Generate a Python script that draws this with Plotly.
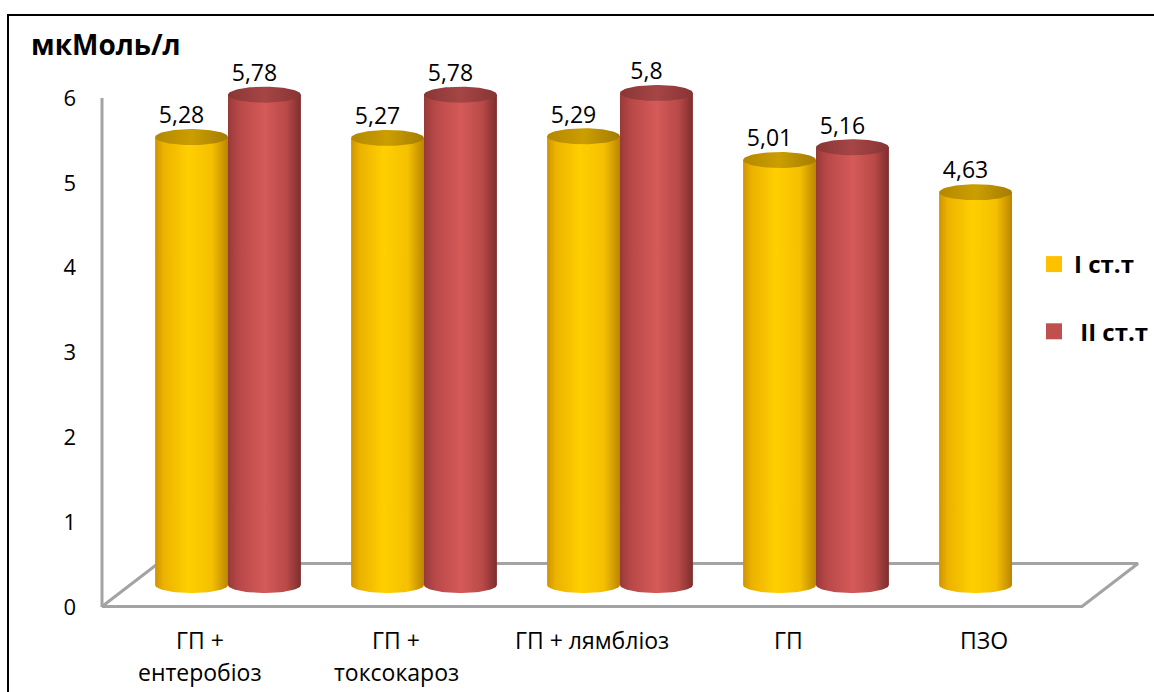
import numpy as np
import plotly.graph_objects as go

# ---- data -------------------------------------------------------------
categories = ["ГП +\nентеробіоз", "ГП +\nтоксокароз", "ГП + лямбліоз", "ГП", "ПЗО"]
series_names = ["I ст.т", "\u00a0II ст.т"]
values_I = [5.28, 5.27, 5.29, 5.01, 4.63]
values_II = [5.78, 5.78, 5.80, 5.16, None]
y_ticks = [0, 1, 2, 3, 4, 5, 6]
unit_title = "мкМоль/л"

# ---- geometry / style ---------------------------------------------------
W, H = 1154, 692
PX_PER_UNIT_Y = 84.83          # pixels per value unit
PX_PER_CAT = 196.0             # pixels per category
MID_X0_PX = 228.0              # category 0 centre on the mid-depth plane
MID_Y0_PX = 585.0              # value 0 on the mid-depth plane
FRONT_Y0_PX = 607.0            # value 0 on the front wall (tick axis)
DEPTH_X = 28.0 / PX_PER_CAT    # half depth, category units
DEPTH_Y = 21.5 / PX_PER_UNIT_Y # half depth, value units
R = 0.186                      # cylinder radius (category units)
B = 8.0 / PX_PER_UNIT_Y        # ellipse half height (value units)
FONT = "Open Sans"
TEXT_SIZE = 23

x_range = [-MID_X0_PX / PX_PER_CAT, (W - MID_X0_PX) / PX_PER_CAT]
y_range = [-(H - MID_Y0_PX) / PX_PER_UNIT_Y, MID_Y0_PX / PX_PER_UNIT_Y]
tick_range = [-(H - FRONT_Y0_PX) / PX_PER_UNIT_Y, FRONT_Y0_PX / PX_PER_UNIT_Y]

body_scales = [
    [[0, "#cf9500"], [0.12, "#ecb200"], [0.45, "#ffcf00"], [0.78, "#f5c000"], [1, "#bb8600"]],
    [[0, "#983a3a"], [0.15, "#b84848"], [0.5, "#d55a58"], [0.8, "#b94a48"], [1, "#7c2e2e"]],
]
cap_scales = [
    [[0, "#b48800"], [0.5, "#cb9e00"], [1, "#a57c00"]],
    [[0, "#8a3636"], [0.5, "#a64545"], [1, "#883434"]],
]
legend_colors = ["#ffc000", "#c0504d"]


def px2paper_x(px):
    return px / W


def px2paper_y(py):
    return 1 - py / H


t = np.linspace(0, np.pi, 40)
t_full = np.linspace(0, 2 * np.pi, 80)

fig = go.Figure()

# floor of the plot area
floor_x = [-0.5 - DEPTH_X, len(categories) - 0.5 - DEPTH_X,
           len(categories) - 0.5 + DEPTH_X, -0.5 + DEPTH_X, -0.5 - DEPTH_X]
floor_y = [-DEPTH_Y, -DEPTH_Y, DEPTH_Y, DEPTH_Y, -DEPTH_Y]
fig.add_trace(go.Scatter(x=floor_x, y=floor_y, mode="lines",
                         line=dict(color="#a3a3a3", width=3),
                         hoverinfo="skip", showlegend=False))

# cylinders
for s, vals in enumerate([values_I, values_II]):
    side = -1 if s == 0 else 1
    for i, v in enumerate(vals):
        if v is None:
            continue
        cx = i + side * R
        # body: left side up, right side down, front half of the base ellipse
        bx = [cx - R, cx + R, cx + R] + list(cx + R * np.cos(t)) + [cx - R]
        by = [v, v, 0] + list(-B * np.sin(t)) + [v]
        fig.add_trace(go.Scatter(
            x=bx, y=by, mode="lines", line=dict(width=0), fill="toself",
            fillgradient=dict(type="horizontal", colorscale=body_scales[s]),
            hoverinfo="skip", showlegend=False))
        # top cap
        fig.add_trace(go.Scatter(
            x=list(cx + R * np.cos(t_full)), y=list(v + B * np.sin(t_full)),
            mode="lines", line=dict(width=0), fill="toself",
            fillgradient=dict(type="horizontal", colorscale=cap_scales[s]),
            hoverinfo="skip", showlegend=False))

# value labels
for s, vals in enumerate([values_I, values_II]):
    side = -1 if s == 0 else 1
    xs, ys, txt = [], [], []
    for i, v in enumerate(vals):
        if v is None:
            continue
        xs.append(i + side * R - 10.0 / PX_PER_CAT)
        ys.append(v + B)
        txt.append(("%g" % v).replace(".", ","))
    fig.add_trace(go.Scatter(x=xs, y=ys, mode="text", text=txt,
                             textposition="top center",
                             textfont=dict(family=FONT, size=TEXT_SIZE, color="#000000"),
                             hoverinfo="skip", showlegend=False, cliponaxis=False))

# legend entries
for s, name in enumerate(series_names):
    fig.add_trace(go.Scatter(x=[None], y=[None], mode="markers", name=name,
                             legendgroup="g%d" % s,
                             marker=dict(symbol="square", size=16, color=legend_colors[s])))

# front wall tick axis
fig.add_trace(go.Scatter(x=[None], y=[None], yaxis="y2", showlegend=False, hoverinfo="skip"))

# category labels (one annotation per line)
annotations = []
for i, cat in enumerate(categories):
    for k, line in enumerate(cat.split("\n")):
        annotations.append(dict(
            x=i - DEPTH_X, xref="x", y=px2paper_y(640 + 32 * k), yref="paper",
            text=line, showarrow=False, xanchor="center", yanchor="middle",
            font=dict(family=FONT, size=TEXT_SIZE, color="#000000")))
annotations.append(dict(
    x=px2paper_x(29), xref="paper", y=px2paper_y(44), yref="paper",
    text="<b>%s</b>" % unit_title, showarrow=False, xanchor="left", yanchor="middle",
    font=dict(family=FONT, size=28, color="#000000")))

shapes = [
    # chart border
    dict(type="rect", xref="paper", yref="paper",
         x0=px2paper_x(8), x1=1.05, y0=px2paper_y(15), y1=-0.05,
         line=dict(color="#000000", width=2), fillcolor="rgba(0,0,0,0)", layer="above"),
    # value axis line on the front wall
    dict(type="line", xref="paper", yref="y2",
         x0=px2paper_x(102), x1=px2paper_x(102), y0=y_ticks[0], y1=y_ticks[-1],
         line=dict(color="#a3a3a3", width=3)),
]

fig.update_layout(
    width=W, height=H,
    margin=dict(l=0, r=0, t=0, b=0),
    paper_bgcolor="#ffffff", plot_bgcolor="rgba(0,0,0,0)",
    font=dict(family=FONT, size=TEXT_SIZE, color="#000000"),
    xaxis=dict(range=x_range, domain=[0, 1], visible=False, fixedrange=True),
    yaxis=dict(range=y_range, domain=[0, 1], visible=False, fixedrange=True),
    yaxis2=dict(range=tick_range, overlaying="y", anchor="free",
                position=px2paper_x(102), side="left",
                tickvals=y_ticks, ticktext=[str(v) for v in y_ticks],
                ticks="", ticklabelstandoff=26, showline=False, showgrid=False,
                zeroline=False, tickfont=dict(family=FONT, size=22, color="#000000"),
                fixedrange=True),
    legend=dict(x=px2paper_x(1034), y=px2paper_y(242), xanchor="left", yanchor="top",
                font=dict(family=FONT, size=24, color="#000000", weight="bold"),
                bgcolor="rgba(0,0,0,0)", tracegroupgap=33, traceorder="grouped"),
    annotations=annotations,
    shapes=shapes,
    showlegend=True,
)

fig.write_html("out.html")
